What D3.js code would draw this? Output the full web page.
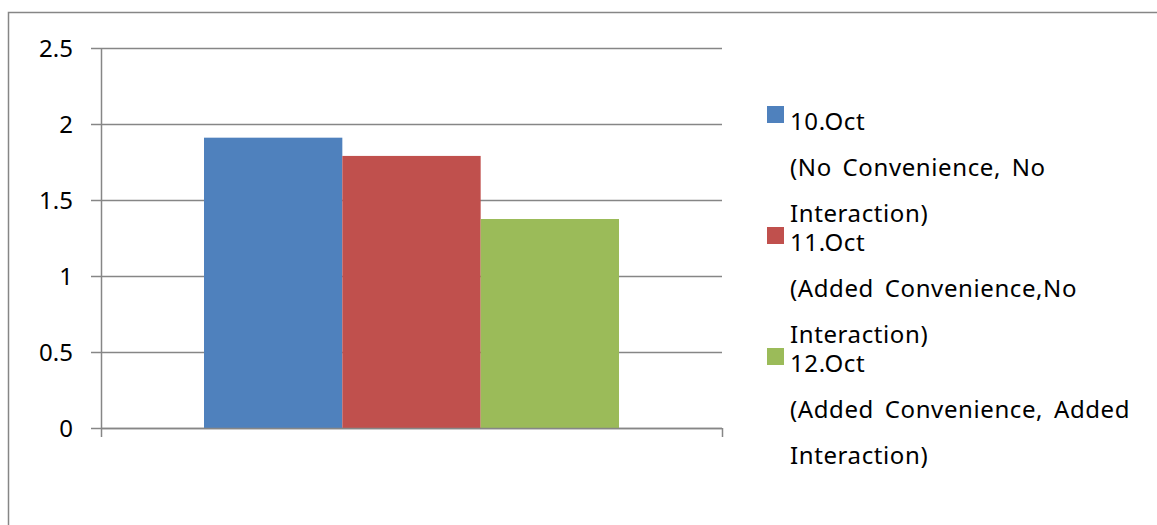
<!DOCTYPE html>
<html>
<head>
<meta charset="utf-8">
<script src="https://cdn.jsdelivr.net/npm/d3@7"></script>
<style>
    body { margin: 0; background: #fff; }
    svg text { font-family: "Noto Sans", "DejaVu Sans", sans-serif; fill: #000; }
</style>
</head>
<body>
<svg id="chart" width="1157" height="525"></svg>
<script>
// chart data
var categories = ["Day"];
var seriesNames = ["10.Oct", "11.Oct", "12.Oct"];
var seriesValues = [1.91, 1.79, 1.375];
var seriesColors = ["#4F81BD", "#C0504D", "#9BBB59"];
var legendLines = [
    ["10.Oct", "(No Convenience, No", "Interaction)"],
    ["11.Oct", "(Added Convenience,No", "Interaction)"],
    ["12.Oct", "(Added Convenience, Added", "Interaction)"]
];
var yTicks = [0, 0.5, 1, 1.5, 2, 2.5];

var svg = d3.select("#chart"),
    margin = {top: 48, left: 101},
    width = 621,
    height = 380,
    g = svg.append("g").attr("transform", "translate(" + margin.left + "," + margin.top + ")");

// outer border of the chart area
svg.append("rect")
    .attr("x", 8.5)
    .attr("y", 12.5)
    .attr("width", 1200)
    .attr("height", 600)
    .attr("fill", "none")
    .attr("stroke", "#868686")
    .attr("stroke-width", 1.5);

var x0 = d3.scaleBand().domain(categories).range([0, width]).paddingInner(0),
    y = d3.scaleLinear().domain([0, 2.5]).range([height, 0]);

// group width is about 415 of 621 px
x0.paddingOuter((width - 415) / 2 / 415);
var x1 = d3.scaleBand().domain(seriesNames).range([0, x0.bandwidth()]).padding(0);

// gridlines
g.append("g")
    .selectAll("line")
    .data(yTicks)
    .enter().append("line")
    .attr("x1", 0)
    .attr("x2", width)
    .attr("y1", function(d) { return Math.round(y(d)) + 0.5; })
    .attr("y2", function(d) { return Math.round(y(d)) + 0.5; })
    .attr("stroke", "#868686")
    .attr("stroke-width", 1.5);

// y axis
var yAxis = g.append("g")
    .call(d3.axisLeft(y).tickValues(yTicks).tickSize(10).tickPadding(18).tickFormat(d3.format("")));
yAxis.selectAll("line, path").attr("stroke", "#868686").attr("stroke-width", 1.5);
yAxis.select(".domain").attr("d", "M0.5," + height + "V0");
yAxis.selectAll("text").attr("font-size", 24).attr("fill", "#000").attr("dy", "0.35em");

// bars
g.append("g")
    .selectAll("rect")
    .data(seriesValues)
    .enter().append("rect")
    .attr("x", function(d, i) { return x0(categories[0]) + x1(seriesNames[i]); })
    .attr("y", function(d) { return y(d); })
    .attr("width", x1.bandwidth())
    .attr("height", function(d) { return height - y(d); })
    .attr("fill", function(d, i) { return seriesColors[i]; });

// x axis with ticks at the category edges
var xAxis = g.append("g")
    .attr("transform", "translate(0," + height + ")");
xAxis.append("line")
    .attr("x1", 0).attr("x2", width)
    .attr("y1", 0.5).attr("y2", 0.5)
    .attr("stroke", "#868686").attr("stroke-width", 1.5);
xAxis.selectAll(".edge")
    .data(x0.range())
    .enter().append("line")
    .attr("class", "edge")
    .attr("x1", function(d) { return d + 0.5; })
    .attr("x2", function(d) { return d + 0.5; })
    .attr("y1", 0).attr("y2", 9)
    .attr("stroke", "#868686").attr("stroke-width", 1.5);

// legend
var legend = svg.append("g").attr("transform", "translate(767,130)");
var entries = legend.selectAll(".entry")
    .data(legendLines)
    .enter().append("g")
    .attr("class", "entry")
    .attr("transform", function(d, i) { return "translate(0," + (i * 121) + ")"; });

entries.append("rect")
    .attr("x", 0)
    .attr("y", -24)
    .attr("width", 17)
    .attr("height", 17)
    .attr("fill", function(d, i) { return seriesColors[i]; });

entries.selectAll("text")
    .data(function(d) { return d; })
    .enter().append("text")
    .attr("x", 23)
    .attr("y", function(d, j) { return j * 46; })
    .attr("font-size", 24)
    .attr("letter-spacing", 0.6)
    .attr("word-spacing", 4)
    .text(function(d) { return d; });
</script>
</body>
</html>
